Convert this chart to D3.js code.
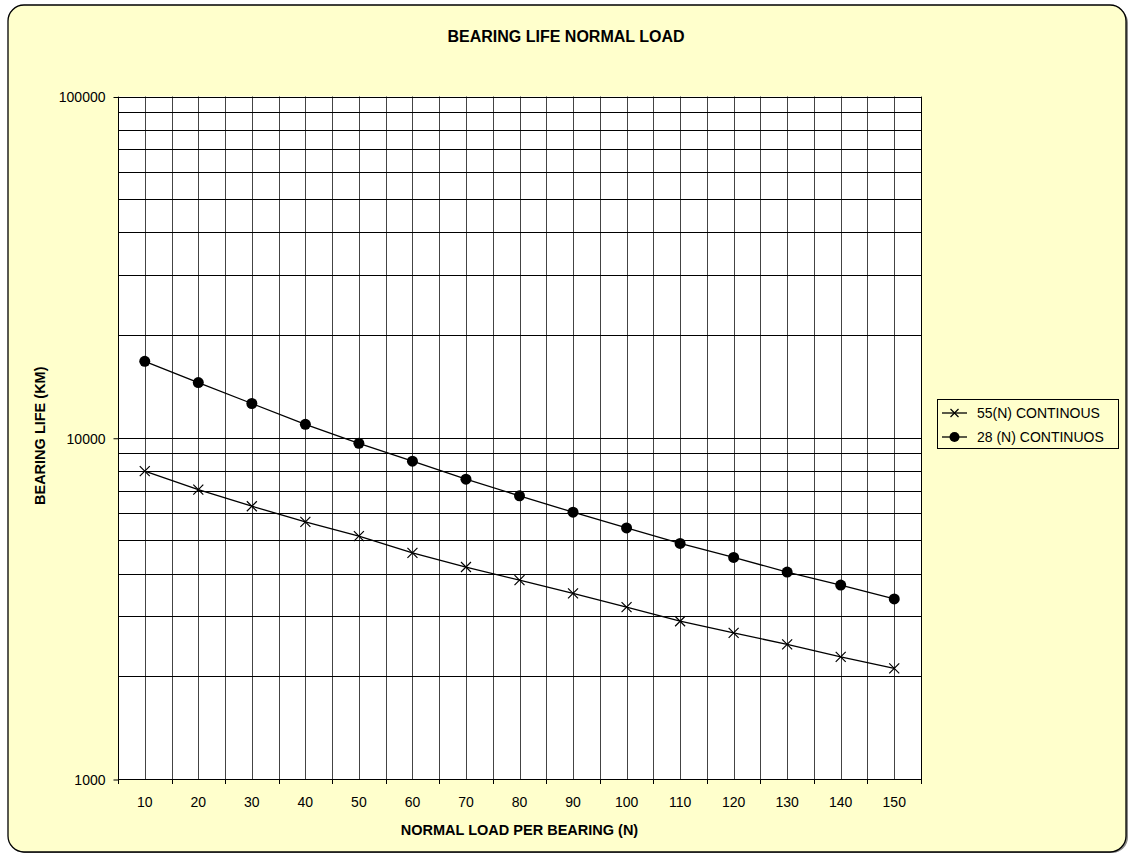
<!DOCTYPE html>
<html>
<head>
<meta charset="utf-8">
<script src="https://cdn.jsdelivr.net/npm/d3@7"></script>
<style>
  html, body { margin: 0; padding: 0; background: #ffffff; }
  svg { display: block; }
  text { font-family: "Liberation Sans", Arial, sans-serif; fill: #000; }
</style>
</head>
<body>
<svg id="chart" width="1128" height="853"></svg>
<script>
// ---- Data ----
const loads = [10, 20, 30, 40, 50, 60, 70, 80, 90, 100, 110, 120, 130, 140, 150];
const life55 = [7980, 7050, 6300, 5670, 5150, 4600, 4180, 3825, 3500, 3190, 2900, 2680, 2480, 2280, 2110];
const life28 = [16750, 14510, 12600, 10950, 9630, 8535, 7560, 6760, 6050, 5440, 4900, 4460, 4040, 3700, 3370];
const yTickValues = [1000, 10000, 100000];
const yGridValues = [1000, 2000, 3000, 4000, 5000, 6000, 7000, 8000, 9000,
                     10000, 20000, 30000, 40000, 50000, 60000, 70000, 80000, 90000, 100000];
const seriesNames = ["55(N) CONTINOUS", "28 (N) CONTINUOS"];
const chartTitle = "BEARING LIFE NORMAL LOAD";
const xTitle = "NORMAL LOAD PER BEARING (N)";
const yTitle = "BEARING LIFE (KM)";

// ---- Layout ----
const svg = d3.select("#chart");
const plot = { left: 118, right: 921, top: 96.5, bottom: 779 };

// chart area background with shadow
svg.append("rect").attr("x", 10).attr("y", 7).attr("width", 1118).attr("height", 846)
  .attr("rx", 16).attr("fill", "#8a8a8a");
svg.append("rect").attr("x", 8).attr("y", 5).attr("width", 1118).attr("height", 847)
  .attr("rx", 16).attr("fill", "#FFFFCC").attr("stroke", "#000").attr("stroke-width", 1.3);

const x = d3.scaleBand().domain(loads).range([plot.left, plot.right]).padding(0);
const y = d3.scaleLog().domain([1000, 100000]).range([plot.bottom, plot.top]);

// plot area
svg.append("rect").attr("x", plot.left).attr("y", plot.top)
  .attr("width", plot.right - plot.left).attr("height", plot.bottom - plot.top)
  .attr("fill", "#ffffff");

// vertical gridlines (band boundaries and centres)
const vPos = [];
loads.forEach(d => { vPos.push(x(d)); vPos.push(x(d) + x.bandwidth() / 2); });
vPos.push(plot.right);
svg.append("g").selectAll("line").data(vPos).join("line")
  .attr("x1", d => Math.round(d) + 0.5).attr("x2", d => Math.round(d) + 0.5)
  .attr("y1", plot.top).attr("y2", plot.bottom)
  .attr("stroke", "#444").attr("stroke-width", 1);

// horizontal gridlines
svg.append("g").selectAll("line").data(yGridValues).join("line")
  .attr("x1", plot.left).attr("x2", plot.right)
  .attr("y1", d => Math.round(y(d)) + 0.5).attr("y2", d => Math.round(y(d)) + 0.5)
  .attr("stroke", "#000").attr("stroke-width", 1);

// plot border
svg.append("rect").attr("x", plot.left + 0.5).attr("y", Math.round(plot.top) + 0.5)
  .attr("width", plot.right - plot.left).attr("height", Math.round(plot.bottom) - Math.round(plot.top))
  .attr("fill", "none").attr("stroke", "#000").attr("stroke-width", 1);

// y axis
const yAxis = d3.axisLeft(y).tickValues(yTickValues).tickSize(5).tickPadding(8)
  .tickFormat(d3.format("d"));
const gy = svg.append("g").attr("transform", `translate(${plot.left + 0.5},0.5)`).call(yAxis);
gy.select(".domain").remove();
gy.selectAll("line").attr("stroke", "#000");
gy.selectAll("text").style("font-size", "14px").attr("dy", "0.35em");

// x axis labels (centred) and ticks at band boundaries
const xAxis = d3.axisBottom(x).tickSize(0).tickPadding(18);
const gx = svg.append("g").attr("transform", `translate(0,${plot.bottom})`).call(xAxis);
gx.select(".domain").remove();
gx.selectAll("text").style("font-size", "14px");
const xTickPos = loads.map(d => x(d)).concat([plot.right]);
svg.append("g").selectAll("line").data(xTickPos).join("line")
  .attr("x1", d => Math.round(d) + 0.5).attr("x2", d => Math.round(d) + 0.5)
  .attr("y1", plot.bottom).attr("y2", plot.bottom + 5)
  .attr("stroke", "#000");

// titles
svg.append("text").attr("x", 566).attr("y", 42).attr("text-anchor", "middle")
  .style("font-size", "16px").style("font-weight", "bold").text(chartTitle);
svg.append("text").attr("x", (plot.left + plot.right) / 2).attr("y", 835).attr("text-anchor", "middle")
  .style("font-size", "14.5px").style("font-weight", "bold").text(xTitle);
svg.append("text").attr("transform", `translate(45,${(plot.top + plot.bottom) / 2 - 2}) rotate(-90)`)
  .attr("text-anchor", "middle")
  .style("font-size", "14.5px").style("font-weight", "bold").text(yTitle);

// series
const cx = d => x(d) + x.bandwidth() / 2;
const line = d3.line().x((d, i) => cx(loads[i])).y(d => y(d));

function crossPath(s) { return `M${-s},${-s}L${s},${s}M${-s},${s}L${s},${-s}`; }

svg.append("path").datum(life55).attr("d", line)
  .attr("fill", "none").attr("stroke", "#000").attr("stroke-width", 1.3);
svg.append("g").selectAll("path").data(life55).join("path")
  .attr("transform", (d, i) => `translate(${cx(loads[i])},${y(d)})`)
  .attr("d", crossPath(5)).attr("stroke", "#000").attr("stroke-width", 1.2).attr("fill", "none");

svg.append("path").datum(life28).attr("d", line)
  .attr("fill", "none").attr("stroke", "#000").attr("stroke-width", 1.3);
svg.append("g").selectAll("circle").data(life28).join("circle")
  .attr("cx", (d, i) => cx(loads[i])).attr("cy", d => y(d)).attr("r", 5.5).attr("fill", "#000");

// legend
const lg = svg.append("g");
lg.append("rect").attr("x", 937.5).attr("y", 399.5).attr("width", 181).attr("height", 49)
  .attr("fill", "#FFFFCC").attr("stroke", "#000").attr("stroke-width", 1);
const ly = [413, 437];
seriesNames.forEach((name, i) => {
  lg.append("line").attr("x1", 942).attr("x2", 967).attr("y1", ly[i]).attr("y2", ly[i])
    .attr("stroke", "#000").attr("stroke-width", 1.3);
  if (i === 0) {
    lg.append("path").attr("transform", `translate(954.5,${ly[i]})`).attr("d", crossPath(4))
      .attr("stroke", "#000").attr("stroke-width", 1.2);
  } else {
    lg.append("circle").attr("cx", 954.5).attr("cy", ly[i]).attr("r", 5).attr("fill", "#000");
  }
  lg.append("text").attr("x", 977).attr("y", ly[i]).attr("dy", "0.36em")
    .style("font-size", "14px").text(name);
});
</script>
</body>
</html>
